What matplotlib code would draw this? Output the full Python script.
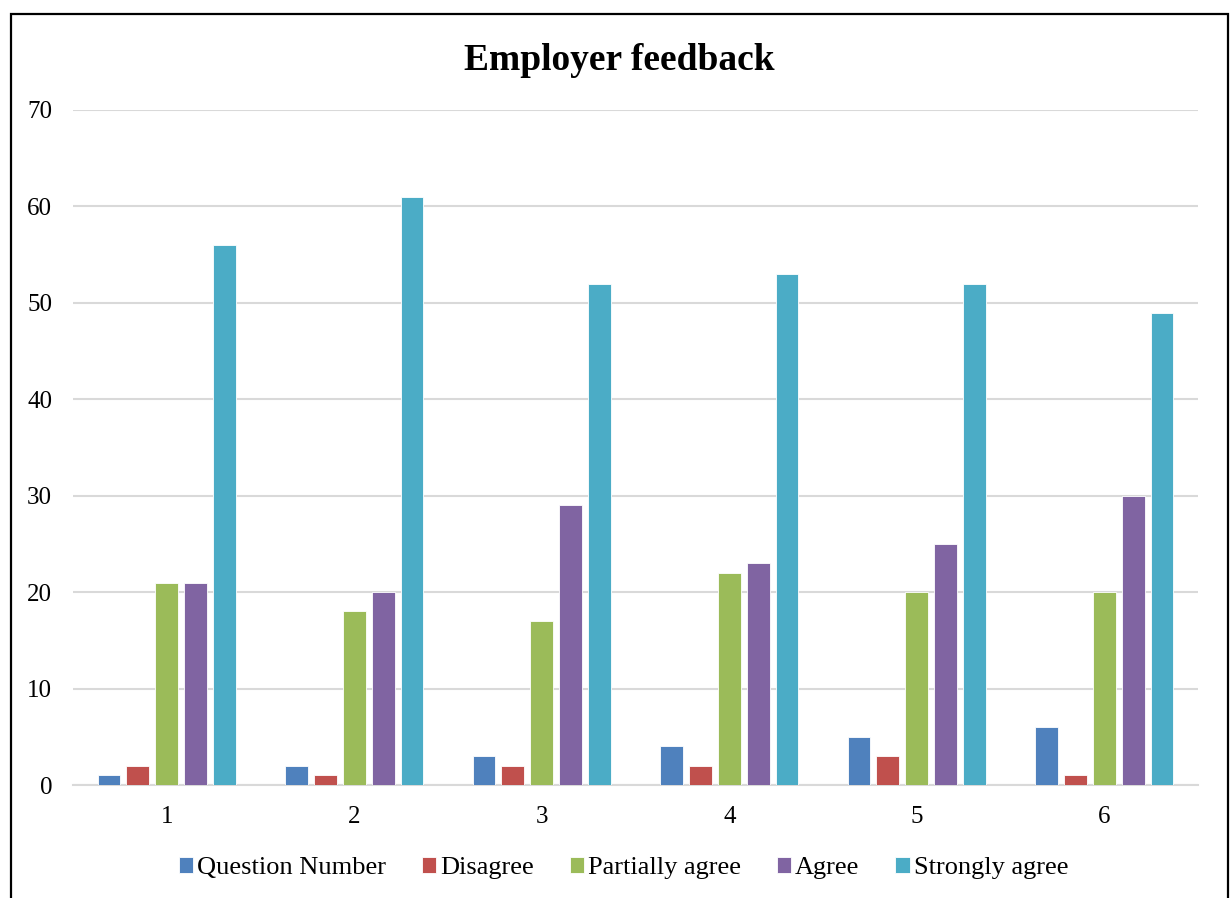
import matplotlib

matplotlib.use("Agg")
import matplotlib.pyplot as plt
import numpy as np
from matplotlib.patches import Rectangle

plt.rcParams["font.family"] = ["Liberation Serif", "DejaVu Serif"]

questions = ["1", "2", "3", "4", "5", "6"]
series_names = ["Question Number", "Disagree", "Partially agree", "Agree", "Strongly agree"]
question_number = [1, 2, 3, 4, 5, 6]
disagree = [2, 1, 2, 2, 3, 1]
partially_agree = [21, 18, 17, 22, 20, 20]
agree = [21, 20, 29, 23, 25, 30]
strongly_agree = [56, 61, 52, 53, 52, 49]
colors = ["#4F81BD", "#C0504D", "#9BBB59", "#8064A2", "#4BACC6"]

series = [question_number, disagree, partially_agree, agree, strongly_agree]

fig = plt.figure(figsize=(12.32, 8.98), dpi=100)
ax = fig.add_axes([73 / 1232, 1 - 785 / 898, (1198 - 73) / 1232, (785 - 110) / 898])

x = np.arange(len(questions))
step = 0.154
width = 0.122
for i, (name, vals, col) in enumerate(zip(series_names, series, colors)):
    ax.bar(x + (i - 2) * step, vals, width, color=col, label=name,
           edgecolor="white", linewidth=0.6, zorder=3)

ax.set_xlim(-0.5, len(questions) - 0.5)
ax.set_ylim(0, 70)
ax.set_yticks(np.arange(0, 71, 10))
ax.set_xticks(x, questions)
ax.tick_params(axis="both", length=0, labelsize=18)
ax.tick_params(axis="y", pad=15)
ax.tick_params(axis="x", pad=15)
ax.grid(True, axis="y", color="#d9d9d9", linewidth=1.5, zorder=0)
for side in ("top", "right", "left"):
    ax.spines[side].set_visible(False)
ax.spines["bottom"].set_color("#d9d9d9")
ax.spines["bottom"].set_linewidth(1.5)

fig.text(0.503, 1 - 60 / 898, "Employer feedback", ha="center", va="center",
         fontsize=27, fontweight="bold")

fig.legend(loc="center", bbox_to_anchor=(0.506, 1 - 868 / 898), ncol=5,
           frameon=False, fontsize=19, handlelength=0.55, handleheight=0.55,
           handletextpad=0.15, columnspacing=1.35)

fig.patches.append(Rectangle((11 / 1232, -0.1), (1228 - 11) / 1232, 1.1 - 14 / 898,
                             transform=fig.transFigure, fill=False,
                             edgecolor="black", linewidth=1.6))

fig.savefig("out.png", dpi=100)
